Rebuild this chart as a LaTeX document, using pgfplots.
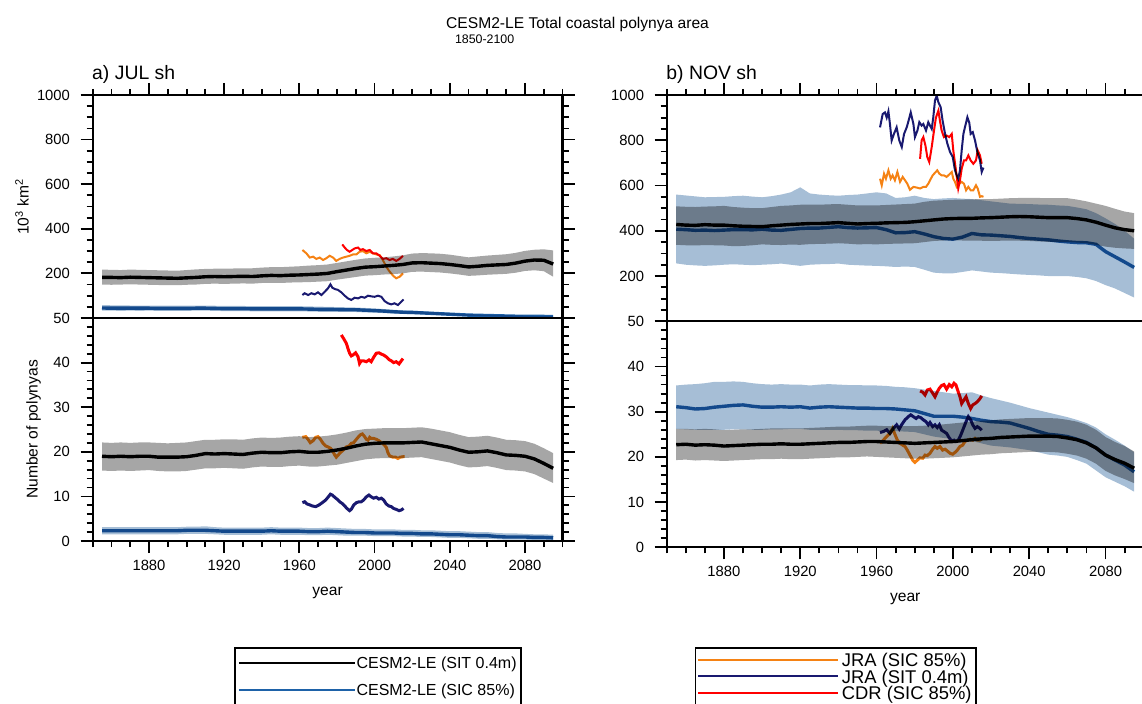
\documentclass[border=0pt]{standalone}
\usepackage{fontspec}
\setmainfont{Liberation Sans}
\usepackage{pgfplots}
\pgfplotsset{compat=1.18}
\usepackage{pgfplotstable}
\usepgfplotslibrary{fillbetween}

\definecolor{cesmblue}{RGB}{30,98,168}
\definecolor{bandblue}{RGB}{166,190,214}
\definecolor{bandgray}{RGB}{166,166,166}
\definecolor{jraorange}{RGB}{245,130,20}
\definecolor{jranavy}{RGB}{25,25,112}
\definecolor{cdrred}{RGB}{255,0,0}

% columns: year, SIT mean/lo/hi (black), SIC mean/lo/hi (blue)
\pgfplotstableread{
year k klo khi b blo bhi
1855 182 150 217 45 33 58
1860 182 149 216 44 33 57
1865 181 150 215 44 32 57
1870 183 151 217 44 33 56
1875 182 150 216 44 32 56
1880 181 149 215 44 33 56
1885 180 148 214 43 32 55
1890 179 147 213 43 32 55
1895 178 147 212 43 32 55
1900 180 149 215 43 32 55
1905 182 150 218 44 33 56
1910 185 153 220 44 33 56
1915 186 154 221 43 32 55
1920 185 153 221 42 31 54
1925 186 154 222 42 31 54
1930 187 155 223 42 31 54
1935 186 154 223 41 30 53
1940 189 157 226 41 30 53
1945 191 158 228 41 30 53
1950 190 157 228 41 30 53
1955 192 159 230 41 30 53
1960 193 160 232 41 30 53
1965 195 161 235 40 29 52
1970 197 163 237 39 28 51
1975 200 165 240 39 28 50
1980 208 172 247 38 27 49
1985 215 178 254 37 27 48
1990 222 184 261 37 27 47
1995 228 190 267 35 25 45
2000 230 192 270 33 24 43
2005 233 195 272 31 22 40
2010 236 197 276 28 20 37
2015 240 200 281 26 18 34
2020 247 207 289 25 17 33
2025 248 208 291 23 16 30
2030 246 206 290 21 15 28
2035 244 204 288 19 13 25
2040 240 200 284 17 12 23
2045 235 195 278 15 10 20
2050 229 189 272 13 9 18
2055 232 191 276 12 8 16
2060 236 194 280 11 7 15
2065 238 196 283 10 6 14
2070 240 198 286 9 5 13
2075 246 203 292 8 5 12
2080 255 211 301 8 4 11
2085 260 214 306 7 4 10
2090 259 210 308 7 4 10
2095 242 185 303 6 3 9
}\jularea

\pgfplotstableread{
year k klo khi b blo bhi
1855 19.0 15.8 22.1 2.3 1.5 3.1
1860 18.9 15.7 22.0 2.3 1.5 3.1
1865 19.0 15.8 22.1 2.3 1.5 3.1
1870 18.9 15.7 22.0 2.3 1.5 3.1
1875 19.0 15.8 22.1 2.3 1.5 3.1
1880 19.0 15.9 22.1 2.3 1.5 3.1
1885 18.8 15.7 22.0 2.3 1.5 3.1
1890 18.8 15.6 21.9 2.3 1.5 3.1
1895 18.8 15.6 22.0 2.3 1.5 3.1
1900 18.9 15.7 22.1 2.4 1.6 3.2
1905 19.2 16.0 22.4 2.4 1.6 3.2
1910 19.6 16.3 22.7 2.4 1.6 3.3
1915 19.5 16.3 22.7 2.3 1.5 3.1
1920 19.6 16.4 22.8 2.2 1.4 3.0
1925 19.5 16.3 22.8 2.2 1.4 3.0
1930 19.4 16.2 22.7 2.2 1.4 3.0
1935 19.7 16.5 23.0 2.2 1.4 3.0
1940 19.9 16.7 23.2 2.2 1.4 3.0
1945 19.8 16.6 23.1 2.3 1.5 3.1
1950 19.8 16.6 23.2 2.2 1.4 3.0
1955 20.0 16.8 23.4 2.2 1.4 3.0
1960 20.1 16.9 23.5 2.2 1.4 3.0
1965 19.9 16.7 23.3 2.1 1.3 2.9
1970 19.9 16.7 23.4 2.1 1.3 2.9
1975 20.1 16.9 23.6 2.2 1.4 3.0
1980 20.4 17.1 23.9 2.1 1.3 2.9
1985 20.8 17.5 24.3 2.0 1.2 2.8
1990 21.3 17.9 24.8 1.9 1.2 2.7
1995 21.7 18.3 25.1 1.9 1.2 2.7
2000 21.9 18.5 25.2 1.8 1.1 2.6
2005 22.0 18.6 25.3 1.8 1.1 2.6
2010 22.0 18.6 25.3 1.8 1.1 2.6
2015 22.0 18.6 25.3 1.7 1.0 2.5
2020 22.1 18.7 25.4 1.7 1.0 2.5
2025 22.2 18.8 25.5 1.6 0.9 2.4
2030 21.8 18.4 25.2 1.6 0.9 2.4
2035 21.4 18.0 24.8 1.5 0.8 2.3
2040 21.0 17.6 24.4 1.4 0.7 2.2
2045 20.4 17.0 23.8 1.4 0.7 2.2
2050 19.9 16.5 23.3 1.3 0.6 2.1
2055 20.0 16.6 23.4 1.2 0.5 2.0
2060 20.2 16.8 23.6 1.2 0.5 2.0
2065 19.8 16.4 23.2 1.0 0.4 1.8
2070 19.3 15.9 22.7 0.9 0.3 1.7
2075 19.2 15.8 22.6 0.9 0.3 1.7
2080 19.0 15.6 22.4 0.9 0.3 1.6
2085 18.4 15.0 21.8 0.8 0.2 1.5
2090 17.4 14.0 20.8 0.8 0.2 1.5
2095 16.3 13.0 19.7 0.7 0.1 1.4
}\julnum

\pgfplotstableread{
year k klo khi b blo bhi
1855 428 338 508 407 256 560
1860 425 336 506 405 250 556
1865 424 335 505 402 247 552
1870 427 337 507 403 245 548
1875 425 336 508 401 247 549
1880 425 335 510 403 250 550
1885 422 332 505 405 252 553
1890 420 333 502 405 250 555
1895 419 336 500 404 248 551
1900 418 340 500 407 250 548
1905 422 338 505 403 252 553
1910 425 337 510 402 255 560
1915 428 339 512 406 250 570
1920 430 338 515 410 245 592
1925 432 341 516 412 250 565
1930 432 342 515 412 252 560
1935 434 343 517 415 253 557
1940 436 345 518 418 255 555
1945 433 343 515 414 250 558
1950 430 340 512 412 248 560
1955 432 341 512 413 246 565
1960 433 340 512 414 245 570
1965 435 342 514 405 243 565
1970 436 343 516 391 240 545
1975 437 344 518 392 242 548
1980 440 345 520 396 240 555
1985 444 350 528 386 228 545
1990 448 355 533 374 215 540
1995 452 357 535 366 212 543
2000 454 358 537 363 212 545
2005 455 357 538 372 218 542
2010 455 356 539 388 225 540
2015 457 356 540 382 220 535
2020 458 355 540 381 215 530
2025 460 356 542 378 213 525
2030 462 356 544 375 210 520
2035 463 356 545 370 207 519
2040 462 355 545 366 205 518
2045 460 353 545 363 203 516
2050 458 351 544 360 200 515
2055 458 350 544 355 200 512
2060 458 350 544 351 200 510
2065 454 348 538 348 196 503
2070 448 345 530 347 190 495
2075 438 338 520 340 178 478
2080 425 330 510 308 160 455
2085 413 325 497 285 145 430
2090 405 322 485 262 125 400
2095 400 320 478 238 105 365
}\novarea

\pgfplotstableread{
year k klo khi b blo bhi
1855 22.7 19.3 26.2 31.1 26.2 35.8
1860 22.8 19.4 26.2 30.9 26.1 36.0
1865 22.6 19.2 26.1 30.6 26.0 36.1
1870 22.7 19.3 26.2 30.7 26.0 36.3
1875 22.6 19.2 26.1 31.0 26.0 36.6
1880 22.4 19.1 25.9 31.2 26.0 36.6
1885 22.5 19.2 26.0 31.4 26.1 36.7
1890 22.6 19.3 26.1 31.5 26.1 36.6
1895 22.7 19.4 26.1 31.2 26.0 36.3
1900 22.8 19.5 26.2 31.0 26.0 36.1
1905 22.8 19.5 26.3 31.0 26.1 36.0
1910 22.9 19.6 26.3 31.1 26.1 36.1
1915 22.8 19.5 26.3 31.0 26.2 36.0
1920 22.8 19.5 26.3 31.1 26.2 36.0
1925 22.9 19.6 26.4 30.8 26.0 35.8
1930 23.0 19.7 26.5 31.0 26.0 36.0
1935 23.1 19.8 26.6 31.1 26.0 36.1
1940 23.2 19.9 26.7 31.0 26.0 36.0
1945 23.2 19.9 26.7 30.9 25.9 35.9
1950 23.3 20.0 26.8 30.8 25.9 35.9
1955 23.4 20.1 26.9 30.8 25.8 35.8
1960 23.4 20.0 26.9 30.7 25.8 35.8
1965 23.3 19.9 26.8 30.7 25.7 35.7
1970 23.2 19.8 26.8 30.6 25.7 35.5
1975 23.1 19.7 26.8 30.4 25.6 35.4
1980 23.0 19.6 26.8 30.2 25.5 35.2
1985 23.1 19.6 26.9 29.6 25.0 34.9
1990 23.2 19.7 27.0 29.0 24.5 34.6
1995 23.3 19.8 27.2 29.0 24.2 34.3
2000 23.4 19.9 27.4 29.0 24.0 34.0
2005 23.6 20.1 27.6 28.8 23.8 34.1
2010 23.8 20.3 27.8 28.5 23.5 34.3
2015 24.0 20.5 28.0 28.1 23.0 33.6
2020 24.1 20.6 28.1 27.8 22.5 33.0
2025 24.3 20.8 28.3 27.7 22.3 32.5
2030 24.4 20.9 28.4 27.5 22.1 32.0
2035 24.5 21.0 28.5 26.9 21.8 31.4
2040 24.6 21.1 28.6 26.3 21.5 30.8
2045 24.6 21.1 28.6 25.6 21.0 30.3
2050 24.6 21.1 28.6 25.0 20.5 29.8
2055 24.5 21.0 28.5 24.8 20.3 29.3
2060 24.2 20.7 28.2 24.5 20.0 28.8
2065 23.8 20.3 27.8 23.9 19.3 28.2
2070 23.1 19.6 27.1 23.2 18.5 27.5
2075 22.0 18.5 26.0 22.0 17.0 26.5
2080 20.4 16.9 24.4 20.4 15.5 25.0
2085 19.4 15.9 23.3 19.3 14.5 23.8
2090 18.6 15.1 22.4 18.2 13.5 22.5
2095 17.5 14.2 21.2 16.7 12.3 21.0
}\novnum

\pgfplotsset{
  ncl/.style={
    scale only axis,
    xmin=1850, xmax=2100,
    tick align=outside,
    major tick length=6pt,
    minor tick length=3pt,
    xtick={1880,1920,...,2080},
    minor xtick={1850,1860,...,2100},
    ytick pos=both, yticklabel pos=left,
    axis line style={line width=1.1pt},
    every tick/.style={black, line width=0.9pt},
    tick label style={font=\fontsize{7.4}{8}\selectfont},
    yticklabel style={xshift=-1.8pt},
    /pgf/number format/assume math mode=true,
    /pgf/number format/1000 sep={},
  },
  area/.style={ncl, ymin=0, ymax=1000, ytick={200,400,...,1000},
    minor ytick={0,50,...,1000}, xtick pos=right, xticklabels={}},
  count/.style={ncl, ymin=0, ymax=50, ytick={0,10,...,50},
    minor ytick={0,2,...,50}, xtick pos=left},
  % lines are multiplied onto the bands, so they darken where a band lies
  cesm/.style={line width=1.7pt, blend mode=multiply},
  obs/.style={line width=1pt, blend mode=multiply},
  obsb/.style={line width=1.5pt, blend mode=multiply},
  legbox/.style={scale only axis, width=1pt, height=1pt, hide axis,
    xmin=0, xmax=1, ymin=0, ymax=1},
}

\begin{document}
\begin{tikzpicture}

% ---------- a) JUL, area ----------
\begin{axis}[area, at={(46.3pt,192.5pt)}, anchor=south west, width=235pt, height=111.5pt]
\addplot[obs, jraorange] coordinates {
(1961.6,305) (1963.7,290) (1965.5,271) (1967.3,275) (1969.0,265) (1970.8,271)
(1972.6,260) (1974.3,268) (1976.1,279) (1977.9,271) (1979.6,256) (1981.4,265)
(1983.2,271) (1985.0,275) (1986.7,279) (1988.5,285) (1990.3,285) (1992.0,297)
(1993.8,300) (1995.6,290) (1997.4,297) (1999.1,290) (2000.9,285) (2002.7,282)
(2004.4,260) (2006.2,230) (2008.0,208) (2009.8,190) (2011.5,178) (2013.3,185)
(2015.1,200)};
\addplot[obs, jranavy] coordinates {
(1961.6,103) (1962.8,111) (1964.6,103) (1966.4,111) (1968.1,106) (1969.9,115)
(1971.7,103) (1973.5,118) (1975.2,133) (1976.5,151) (1977.5,136) (1978.8,130)
(1980.5,126) (1982.3,115) (1984.1,100) (1985.8,88) (1987.6,81) (1989.4,91)
(1991.2,88) (1992.9,95) (1994.7,91) (1996.5,100) (1998.2,97) (2000.0,95)
(2001.8,100) (2003.6,95) (2005.3,76) (2007.1,66) (2008.9,61) (2010.6,66)
(2012.4,58) (2014.2,73) (2015.4,83)};
\addplot[obs, cdrred] coordinates {
(1982.8,330) (1984.1,316) (1985.3,305) (1986.7,297) (1988.1,305) (1989.4,312)
(1991.2,316) (1992.4,305) (1993.8,309) (1995.6,300) (1997.4,305) (1999.1,290)
(2000.9,290) (2002.7,279) (2004.4,265) (2006.2,268) (2008.0,260) (2009.7,265)
(2011.5,256) (2013.3,265) (2015.1,279)};
\addplot[cesm, black] table[x=year, y=k] {\jularea};
\addplot[cesm, cesmblue] table[x=year, y=b] {\jularea};
\addplot[draw=none, name path=ah] table[x=year, y=khi] {\jularea};
\addplot[draw=none, name path=al] table[x=year, y=klo] {\jularea};
\addplot[bandgray, blend mode=multiply] fill between[of=ah and al];
\addplot[draw=none, name path=bh] table[x=year, y=bhi] {\jularea};
\addplot[draw=none, name path=bl] table[x=year, y=blo] {\jularea};
\addplot[bandblue, blend mode=multiply] fill between[of=bh and bl];
\end{axis}

% ---------- a) JUL, number ----------
\begin{axis}[count, at={(46.3pt,81pt)}, anchor=south west, width=235pt, height=111.5pt]
\addplot[obsb, jraorange] coordinates {
(1961.6,23.25) (1963.4,23.4) (1964.6,22.8) (1965.8,22.05) (1967.3,22.5) (1968.7,23.25)
(1969.9,23.4) (1971.2,22.8) (1972.6,21.9) (1974.0,21.3) (1975.2,21.1) (1976.5,20.8)
(1977.5,20.3) (1978.8,19.3) (1979.6,18.8) (1981.1,19.5) (1982.3,20.0) (1983.5,20.5)
(1985.0,21.1) (1986.4,21.3) (1987.6,21.9) (1988.9,22.05) (1989.9,22.6) (1991.2,23.25)
(1992.4,23.8) (1993.5,24.0) (1994.7,23.4) (1995.6,22.8) (1996.5,22.6) (1997.4,23.25)
(1998.2,23.0) (1999.5,23.0) (2000.9,22.8) (2002.3,22.5) (2003.6,22.05) (2004.8,21.7)
(2006.2,21.0) (2007.1,19.8) (2008.0,19.1) (2009.7,18.8) (2011.2,18.8) (2012.4,18.5)
(2013.6,18.8) (2015.1,18.9) (2016.0,18.9)};
\addplot[obsb, jranavy] coordinates {
(1961.6,8.6) (1962.8,8.8) (1964.1,8.3) (1965.5,8.1) (1966.9,7.85) (1968.7,7.7)
(1970.4,8.07) (1972.2,8.6) (1974.0,9.2) (1975.2,9.8) (1976.5,10.5) (1977.5,10.3)
(1978.8,9.8) (1980.0,9.4) (1981.4,8.8) (1982.8,8.4) (1984.1,7.85) (1985.3,7.3)
(1986.7,6.8) (1987.6,7.1) (1988.9,8.07) (1990.3,8.6) (1991.7,8.8) (1992.9,8.8)
(1994.2,9.2) (1995.6,9.9) (1997.0,10.3) (1998.2,9.9) (1999.5,9.6) (2000.9,9.8)
(2002.3,9.4) (2003.6,9.6) (2004.8,9.2) (2006.2,8.3) (2007.6,7.85) (2008.9,7.7)
(2010.1,7.3) (2011.5,7.1) (2013.0,6.8) (2014.2,6.95) (2015.4,7.3)};
\addplot[obsb, cdrred] coordinates {
(1982.3,46.2) (1983.5,45.4) (1985.0,44.3) (1985.8,43.2) (1986.7,42.1) (1987.6,41.5)
(1988.5,41.7) (1989.9,42.2) (1991.2,41.3) (1992.0,39.8) (1992.9,40.4) (1994.2,40.4)
(1995.6,40.2) (1997.0,40.6) (1998.2,40.2) (1999.5,41.2) (2000.9,42.1) (2002.3,42.2)
(2003.6,41.9) (2004.8,41.7) (2006.2,41.3) (2007.6,40.7) (2008.9,40.4) (2010.1,40.0)
(2011.5,40.2) (2013.0,39.7) (2014.2,40.4) (2015.1,40.9)};
\addplot[cesm, black] table[x=year, y=k] {\julnum};
\addplot[cesm, cesmblue] table[x=year, y=b] {\julnum};
\addplot[draw=none, name path=ah] table[x=year, y=khi] {\julnum};
\addplot[draw=none, name path=al] table[x=year, y=klo] {\julnum};
\addplot[bandgray, blend mode=multiply] fill between[of=ah and al];
\addplot[draw=none, name path=bh] table[x=year, y=bhi] {\julnum};
\addplot[draw=none, name path=bl] table[x=year, y=blo] {\julnum};
\addplot[bandblue, blend mode=multiply] fill between[of=bh and bl];
\end{axis}

% ---------- b) NOV, area ----------
\begin{axis}[area, at={(333.35pt,190.85pt)}, anchor=south west, width=238.5pt, height=113.15pt]
\addplot[obs, jraorange] coordinates {
(1961.8,630) (1962.7,601) (1963.9,652) (1964.9,630) (1966.2,667) (1967.4,630)
(1968.4,645) (1969.6,623) (1970.9,660) (1972.3,616) (1973.7,638) (1974.9,623)
(1976.1,608) (1977.5,581) (1979.3,594) (1981.0,591) (1982.8,587) (1984.5,594)
(1985.9,594) (1987.1,608) (1988.0,623) (1989.4,645) (1990.6,656) (1991.8,667)
(1992.9,652) (1994.1,645) (1995.3,645) (1996.7,638) (1998.1,649) (1999.4,660)
(2000.2,630) (2001.1,616) (2002.0,594) (2003.4,608) (2004.6,616) (2005.8,608)
(2006.9,579) (2008.1,594) (2009.3,579) (2010.7,579) (2012.1,601) (2013.0,587)
(2014.2,550) (2015.1,553) (2016.0,550)};
\addplot[obs, jranavy] coordinates {
(1961.8,857) (1963.2,916) (1964.4,923) (1965.3,900) (1966.2,928) (1967.0,872)
(1967.9,799) (1969.1,828) (1970.5,857) (1971.9,799) (1973.2,770) (1974.4,828)
(1975.8,857) (1977.2,900) (1977.9,923) (1979.3,872) (1980.1,814) (1981.4,843)
(1982.4,880) (1983.6,865) (1984.5,872) (1985.9,843) (1987.1,880) (1988.9,850)
(1989.7,900) (1990.6,975) (1991.5,997) (1992.4,968) (1993.6,946) (1994.6,887)
(1995.9,828) (1997.1,785) (1998.5,748) (1999.9,726) (2001.1,667) (2002.0,645)
(2002.8,630) (2003.7,667) (2004.6,755) (2005.5,828) (2006.3,857) (2007.6,902)
(2008.6,877) (2009.3,828) (2010.4,836) (2011.6,799) (2012.8,748) (2014.2,711)
(2015.1,660) (2016.0,679)};
\addplot[obs, cdrred] coordinates {
(1982.8,718) (1983.6,799) (1984.5,814) (1985.6,777) (1986.6,725) (1987.6,704)
(1988.9,770) (1990.1,843) (1991.1,900) (1992.4,931) (1993.2,887) (1994.1,843)
(1995.3,814) (1996.7,821) (1998.1,814) (1999.4,828) (2000.2,755) (2001.6,667)
(2002.8,587) (2003.7,623) (2004.6,674) (2005.8,711) (2006.9,711) (2008.1,733)
(2009.3,711) (2010.7,696) (2012.1,711) (2013.0,755) (2014.2,733) (2015.1,696)};
\addplot[cesm, black] table[x=year, y=k] {\novarea};
\addplot[cesm, cesmblue] table[x=year, y=b] {\novarea};
\addplot[draw=none, name path=ah] table[x=year, y=khi] {\novarea};
\addplot[draw=none, name path=al] table[x=year, y=klo] {\novarea};
\addplot[bandgray, blend mode=multiply] fill between[of=ah and al];
\addplot[draw=none, name path=bh] table[x=year, y=bhi] {\novarea};
\addplot[draw=none, name path=bl] table[x=year, y=blo] {\novarea};
\addplot[bandblue, blend mode=multiply] fill between[of=bh and bl];
\end{axis}

% ---------- b) NOV, number ----------
\begin{axis}[count, at={(333.35pt,77.85pt)}, anchor=south west, width=238.5pt, height=113pt]
\addplot[obsb, jraorange] coordinates {
(1961.8,23.0) (1963.5,23.7) (1965.3,24.5) (1967.0,25.2) (1968.4,26.3) (1969.6,25.0)
(1970.9,23.7) (1972.3,23.0) (1973.7,22.6) (1974.9,22.3) (1976.1,21.5) (1977.5,20.4)
(1978.9,19.3) (1980.1,18.8) (1981.4,19.3) (1982.8,19.8) (1984.2,19.7) (1985.4,20.4)
(1986.6,20.3) (1988.0,20.8) (1989.4,21.7) (1990.6,22.3) (1991.8,21.9) (1993.2,22.3)
(1994.6,21.5) (1995.9,21.7) (1997.1,21.3) (1998.5,20.8) (1999.9,20.6) (2001.1,21.0)
(2002.3,21.5) (2003.7,22.3) (2005.1,22.6) (2006.3,23.4) (2007.6,23.7) (2009.0,23.9)
(2010.4,23.7) (2011.6,24.1) (2012.8,23.7) (2014.2,23.7) (2015.6,24.1)};
\addplot[obsb, jranavy] coordinates {
(1961.8,25.4) (1963.5,25.6) (1965.3,26.0) (1967.0,25.2) (1968.8,26.3) (1970.5,27.1)
(1971.9,26.2) (1973.1,27.1) (1974.9,28.2) (1976.6,28.9) (1977.9,29.3) (1979.3,28.9)
(1980.7,28.5) (1981.9,28.9) (1983.1,28.7) (1984.5,28.2) (1985.9,27.8) (1987.1,27.1)
(1988.0,27.6) (1989.4,26.7) (1990.6,27.1) (1991.8,26.5) (1992.9,27.1) (1994.1,25.9)
(1995.3,25.6) (1996.7,25.2) (1998.1,24.2) (1999.4,23.5) (2000.6,23.7) (2001.6,23.4)
(2002.8,23.7) (2004.1,24.8) (2005.5,26.3) (2006.9,27.8) (2008.1,28.9) (2009.3,28.2)
(2010.4,27.1) (2011.6,26.3) (2012.8,26.7) (2014.2,26.3) (2015.1,25.9)};
\addplot[obsb, cdrred] coordinates {
(1982.8,34.6) (1984.2,34.3) (1985.4,33.7) (1986.6,34.8) (1988.0,35.0) (1989.4,34.1)
(1990.6,33.3) (1991.8,34.4) (1992.9,35.2) (1994.1,35.8) (1995.3,36.0) (1996.7,35.0)
(1998.1,36.0) (1999.4,35.5) (2000.6,36.3) (2001.6,35.9) (2002.8,34.4) (2003.7,33.3)
(2004.6,31.8) (2005.8,32.6) (2006.9,33.3) (2008.1,31.8) (2009.3,30.7) (2010.4,31.5)
(2011.6,31.8) (2012.8,32.2) (2014.2,32.9) (2015.1,33.5)};
\addplot[cesm, black] table[x=year, y=k] {\novnum};
\addplot[cesm, cesmblue] table[x=year, y=b] {\novnum};
\addplot[draw=none, name path=ah] table[x=year, y=khi] {\novnum};
\addplot[draw=none, name path=al] table[x=year, y=klo] {\novnum};
\addplot[bandgray, blend mode=multiply] fill between[of=ah and al];
\addplot[draw=none, name path=bh] table[x=year, y=bhi] {\novnum};
\addplot[draw=none, name path=bl] table[x=year, y=blo] {\novnum};
\addplot[bandblue, blend mode=multiply] fill between[of=bh and bl];
\end{axis}

% ---------- legends ----------
\begin{axis}[legbox, at={(117.15pt,28.15pt)}, anchor=north west,
  legend image code/.code={\draw[#1] (0pt,0pt) -- (57.85pt,0pt);},
  legend style={at={(0,1)}, anchor=north west, draw=black, line width=0.9pt,
    inner xsep=1.4pt, inner ysep=4.15pt, row sep=6.2pt, column sep=0pt,
    font=\fontsize{8}{9}\selectfont, cells={anchor=west},
    nodes={inner xsep=0.65pt, inner ysep=0pt, text height=6.5pt, text depth=0.8pt}}]
\addplot[draw=none, forget plot] coordinates {(0,0) (1,1)};
\addlegendimage{black, line width=0.8pt}
\addlegendentry{CESM2-LE (SIT 0.4m)}
\addlegendimage{cesmblue, line width=0.8pt}
\addlegendentry{CESM2-LE (SIC 85\%)}
\end{axis}

\begin{axis}[legbox, at={(347.25pt,28.15pt)}, anchor=north west,
  legend image code/.code={\draw[#1] (0pt,0pt) -- (70pt,0pt);},
  legend style={at={(0,1)}, anchor=north west, draw=black, line width=0.9pt,
    inner xsep=1pt, inner ysep=2.25pt, row sep=0.45pt, column sep=0pt,
    font=\fontsize{9.2}{10}\selectfont, cells={anchor=west},
    nodes={inner xsep=1.2pt, inner ysep=0pt, text height=7.2pt, text depth=0.6pt}}]
\addplot[draw=none, forget plot] coordinates {(0,0) (1,1)};
\addlegendimage{jraorange, line width=1pt}
\addlegendentry{JRA (SIC 85\%)}
\addlegendimage{jranavy, line width=1pt}
\addlegendentry{JRA (SIT 0.4m)}
\addlegendimage{cdrred, line width=1pt}
\addlegendentry{CDR (SIC 85\%)}
\end{axis}

% ---------- titles and labels ----------
\node[anchor=base west, font=\fontsize{7.8}{9}\selectfont, inner sep=0pt] at (222.9pt,337.35pt) {CESM2-LE Total coastal polynya area};
\node[anchor=base west, font=\fontsize{6.2}{7}\selectfont, inner sep=0pt] at (227.3pt,329.85pt) {1850-2100};
\node[anchor=base west, font=\fontsize{9.7}{11}\selectfont, inner sep=0pt] at (45.9pt,311.5pt) {a) JUL sh};
\node[anchor=base west, font=\fontsize{9.7}{11}\selectfont, inner sep=0pt] at (333.0pt,311.5pt) {b) NOV sh};
\node[rotate=90, font=\fontsize{7.8}{9}\selectfont, inner sep=0pt] at (11pt,248.25pt) {10\textsuperscript{3} km\textsuperscript{2}};
\node[rotate=90, font=\fontsize{7.8}{9}\selectfont, inner sep=0pt] at (16.75pt,136.75pt) {Number of polynyas};
\node[anchor=base, font=\fontsize{7.8}{9}\selectfont, inner sep=0pt] at (163.8pt,53.65pt) {year};
\node[anchor=base, font=\fontsize{7.8}{9}\selectfont, inner sep=0pt] at (452.6pt,50.65pt) {year};

\pgfresetboundingbox
\useasboundingbox (0,0) rectangle (571pt,351.5pt);
\end{tikzpicture}
\end{document}
